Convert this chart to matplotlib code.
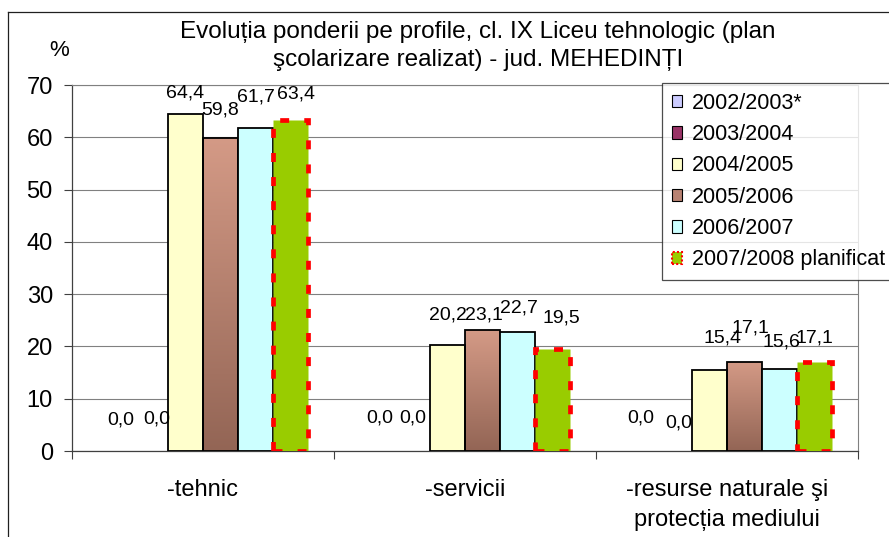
import numpy as np
import matplotlib.pyplot as plt
from matplotlib.patches import Patch
from matplotlib.lines import Line2D
from matplotlib.colors import LinearSegmentedColormap

plt.rcParams['font.family'] = ['Liberation Sans', 'DejaVu Sans']

# date
categories = ['-tehnic', '-servicii', '-resurse naturale şi\nprotecția mediului']
years = ['2002/2003*', '2003/2004', '2004/2005', '2005/2006', '2006/2007',
         '2007/2008 planificat']
v_2002 = [0.0, 0.0, 0.0]
v_2003 = [0.0, 0.0, 0.0]
v_2004 = [64.4, 20.2, 15.4]
v_2005 = [59.8, 23.1, 17.1]
v_2006 = [61.7, 22.7, 15.6]
v_2007 = [63.4, 19.5, 17.1]
series = [v_2002, v_2003, v_2004, v_2005, v_2006, v_2007]
y_ticks = [0, 10, 20, 30, 40, 50, 60, 70]

colors = ['#ccccff', '#993366', '#ffffcc', '#b88272', '#ccffff', '#99cc00']

# pozitionarea etichetelor (dx, dy in pixeli fata de varful barei)
label_offsets = [
    [(5.5, 31), (2.5, 33), (1.5, 33)],
    [(6.5, 32), (0.5, 33), (4.5, 28)],
    [(-0.5, 21), (0.5, 30), (13, 32.5)],
    [(0, 28), (1.5, 15), (5.5, 33.5)],
    [(0, 31), (1.5, 24), (1.5, 27)],
    [(5.5, 26), (8.5, 31), (-0.5, 24)],
]

W, H = 889, 537
fig = plt.figure(figsize=(W / 100, H / 100), dpi=100)
ax = fig.add_axes([72 / W, 1 - 451 / H, (858 - 72) / W, (451 - 85) / H])

x = np.arange(len(categories))
width = 35 / 262
grad_cmap = LinearSegmentedColormap.from_list('maro', ['#936555', '#d49a86'])
grad = np.linspace(0, 1, 256).reshape(-1, 1)

for j, vals in enumerate(series):
    pos = x + (j - 2.5) * width
    if j == 5:
        bars = ax.bar(pos, vals, width, color=colors[j], edgecolor='red',
                      linewidth=3.4, linestyle=(0, (1.9, 3.2)), zorder=3)
    elif j == 3:
        bars = ax.bar(pos, vals, width, facecolor='none', edgecolor='black',
                      linewidth=1.3, zorder=3)
        for b in bars:
            im = ax.imshow(grad, extent=[b.get_x(), b.get_x() + b.get_width(), 0, b.get_height()],
                           origin='lower', aspect='auto', cmap=grad_cmap, zorder=2)
            im.set_clip_path(b)
    else:
        lw = 1.3 if max(vals) > 0 else 0
        bars = ax.bar(pos, vals, width, color=colors[j], edgecolor='black',
                      linewidth=lw, zorder=3)
    for i, b in enumerate(bars):
        dx, dy = label_offsets[j][i]
        ax.annotate(f"{vals[i]:.1f}".replace('.', ','),
                    (b.get_x() + b.get_width() / 2, b.get_height()),
                    xytext=(dx * 0.72, dy * 0.72), textcoords='offset points',
                    ha='center', va='center', fontsize=14, zorder=5)

ax.set_xlim(-0.5, 2.5)
ax.set_ylim(0, 70)
ax.set_yticks(y_ticks)
ax.set_yticklabels([str(t) for t in y_ticks])
ax.set_xticks(x)
ax.set_xticklabels(categories, fontsize=17, linespacing=1.5)
ax.set_xticks([-0.5, 0.5, 1.5, 2.5], minor=True)
ax.tick_params(axis='x', which='major', length=0, pad=20)
ax.tick_params(axis='x', which='minor', length=5.8, width=0.8, color='#404040', direction='out')
ax.tick_params(axis='y', length=5.8, width=0.8, color='#404040', labelsize=17, pad=8)
ax.yaxis.grid(True, color='#808080', linewidth=0.8)
ax.set_axisbelow(True)
for s in ['left', 'bottom']:
    ax.spines[s].set_color('#404040')
    ax.spines[s].set_linewidth(0.9)
for s in ['top', 'right']:
    ax.spines[s].set_color('#808080')
    ax.spines[s].set_linewidth(0.8)

fig.text(478 / W, 1 - 46 / H,
         'Evoluția ponderii pe profile, cl. IX Liceu tehnologic (plan\n'
         'şcolarizare realizat) - jud. MEHEDINȚI',
         ha='center', va='center', fontsize=17.5, linespacing=1.3)
fig.text(59 / W, 1 - 50 / H, '%', ha='center', va='center', fontsize=16)

handles = []
for j, name in enumerate(years):
    if j == 5:
        handles.append(Patch(facecolor=colors[j], edgecolor='red', linewidth=1.5,
                             linestyle=(0, (1, 1)), label=name))
    else:
        handles.append(Patch(facecolor=colors[j], edgecolor='black', linewidth=0.8, label=name))
leg = fig.legend(handles=handles, loc='upper left', bbox_to_anchor=(662 / W, 1 - 83 / H),
                 fontsize=15.5, frameon=True, fancybox=False, borderaxespad=0,
                 handlelength=0.5, handleheight=0.5, handletextpad=0.45,
                 labelspacing=0.48, borderpad=0.45)
leg.get_frame().set_edgecolor('#202020')
leg.get_frame().set_linewidth(0.9)

# chenarul exterior al graficului
fig.add_artist(Line2D([8 / W, 8 / W], [0, 1 - 12 / H], color='#202020', linewidth=0.9))
fig.add_artist(Line2D([8 / W, 1], [1 - 12 / H, 1 - 12 / H], color='#202020', linewidth=0.9))

fig.savefig('out.png', dpi=100)
